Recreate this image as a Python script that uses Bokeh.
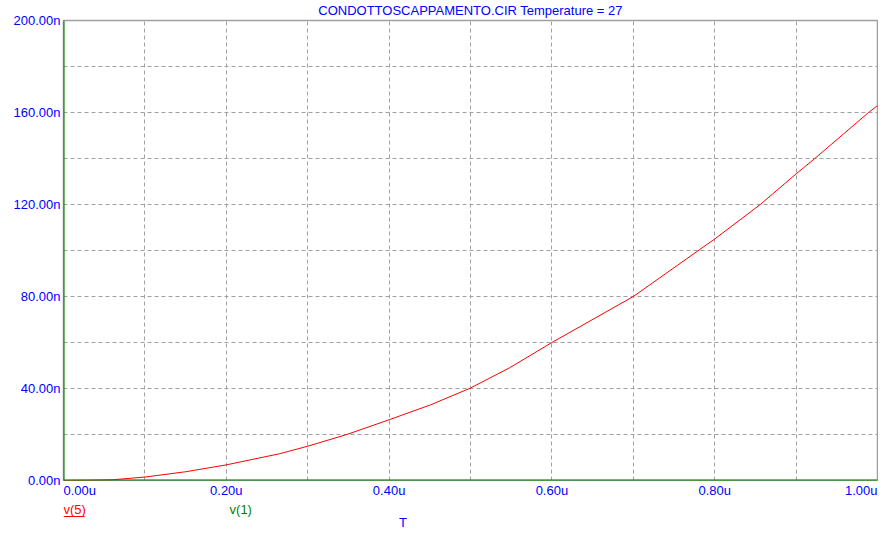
from bokeh.plotting import figure
from bokeh.layouts import column, row
from bokeh.models import Range1d, FixedTicker, Span
from bokeh.core.properties import value
from bokeh.embed import file_html
from bokeh.resources import INLINE

# ---- data (time in microseconds, voltage in nano-units) ----
t_us = [0.0, 0.03, 0.06, 0.10, 0.15, 0.20, 0.265, 0.30, 0.348, 0.40, 0.451,
        0.50, 0.548, 0.60, 0.70, 0.754, 0.80, 0.856, 0.90, 0.923, 0.989, 1.0]
v_n = [0.0, 0.1, 0.3, 1.5, 3.8, 6.8, 11.6, 14.9, 20.0, 26.4, 32.9,
       40.2, 49.0, 60.0, 80.0, 93.5, 105.0, 120.0, 133.3, 140.0, 160.0, 163.0]

y_ticks = [0, 40, 80, 120, 160, 200]
y_tick_labels = ["0.00n", "40.00n", "80.00n", "120.00n", "160.00n", "200.00n"]
x_ticks = [0.0, 0.2, 0.4, 0.6, 0.8, 1.0]
x_tick_labels = ["0.00u", "0.20u", "0.40u", "0.60u", "0.80u", "1.00u"]
x_grid = [0.0, 0.1, 0.2, 0.3, 0.4, 0.5, 0.6, 0.7, 0.8, 0.9, 1.0]
y_grid = [0, 20, 40, 60, 80, 100, 120, 140, 160, 180, 200]

title_text = "CONDOTTOSCAPPAMENTO.CIR Temperature = 27"
legend_names = ["v(5)", "v(1)"]
legend_colors = ["#ff0000", "#008000"]
legend_x = [0.0, 0.204]
x_label = "T"
x_label_pos = 0.417

FONT = "Liberation Sans"
BLUE = "#0000ff"
GRID = "#a0a0a0"
GREEN = "#008000"

LABEL_W = 62          # width of the strip holding the y tick labels
W = 878 - LABEL_W     # width of the plot column
H_TITLE, H_MAIN, H_BOTTOM = 19, 462, 48
H_ALL = H_TITLE + H_MAIN + H_BOTTOM
x_rng = Range1d(0, 1)
y_lo, y_hi = 0, 200
frame_h = H_MAIN - 2
per_px = (y_hi - y_lo) / frame_h


def bare(width, height, x_range, y_range):
    f = figure(width=width, height=height, output_backend="svg", toolbar_location=None,
               x_range=x_range, y_range=y_range, x_axis_location=None, y_axis_location=None,
               min_border_left=1, min_border_right=1, min_border_top=0, min_border_bottom=0)
    f.outline_line_color = None
    f.grid.visible = False
    f.background_fill_color = "white"
    f.border_fill_color = "white"
    return f


# ---- y tick label strip (same vertical scale as the main plot) ----
pl = figure(width=LABEL_W, height=H_ALL, output_backend="svg", toolbar_location=None,
            x_range=Range1d(0, 1),
            y_range=Range1d(y_lo - (H_BOTTOM + 1) * per_px, y_hi + (H_TITLE + 1) * per_px),
            x_axis_location=None, y_axis_location="left",
            min_border_left=LABEL_W - 1, min_border_right=0, min_border_top=0, min_border_bottom=0)
pl.outline_line_color = None
pl.grid.visible = False
pl.background_fill_color = "white"
pl.border_fill_color = "white"
lax = pl.yaxis[0]
lax.ticker = FixedTicker(ticks=y_ticks)
lax.major_label_overrides = {t: l for t, l in zip(y_ticks, y_tick_labels)}
lax.axis_line_color = None
lax.major_tick_line_color = None
lax.minor_tick_line_color = None
lax.major_tick_out = 0
lax.major_tick_in = 0
lax.minor_tick_out = 0
lax.minor_tick_in = 0
lax.major_label_standoff = 1
lax.major_label_text_color = BLUE
lax.major_label_text_font = FONT
lax.major_label_text_font_size = "13px"

# ---- title strip ----
pt = bare(W, H_TITLE, x_rng, Range1d(H_TITLE, 0))
pt.text(x=[0.5], y=[10], text=[title_text], text_align="center", text_baseline="middle",
        text_color=BLUE, text_font=value(FONT), text_font_size="13px")

# ---- main plot ----
p = figure(width=W, height=H_MAIN, output_backend="svg", toolbar_location=None,
           x_range=x_rng, y_range=Range1d(y_lo, y_hi),
           x_axis_location=None, y_axis_location=None,
           min_border_left=1, min_border_right=1, min_border_top=1, min_border_bottom=1)
p.background_fill_color = "white"
p.border_fill_color = "white"
p.outline_line_color = GRID
p.outline_line_width = 1.5

p.xgrid.ticker = FixedTicker(ticks=x_grid)
p.ygrid.ticker = FixedTicker(ticks=y_grid)
for g in (p.xgrid, p.ygrid):
    g.grid_line_color = GRID
    g.grid_line_dash = "4 3"
    g.grid_line_width = 1

p.add_layout(Span(location=y_lo, dimension="width", line_color=GREEN, line_width=2))
p.add_layout(Span(location=x_rng.start, dimension="height", line_color=GREEN, line_width=2))

p.line(t_us, v_n, line_color="#ff0000", line_width=1)

# ---- bottom strip: tick labels, trace names, axis name ----
pb = bare(W, H_BOTTOM, x_rng, Range1d(H_BOTTOM, 0))
aligns = ["left"] + ["center"] * (len(x_ticks) - 2) + ["right"]
pb.text(x=x_ticks, y=[9] * len(x_ticks), text=x_tick_labels, text_align=aligns,
        text_baseline="middle", text_color=BLUE, text_font=value(FONT), text_font_size="13px")
pb.text(x=legend_x, y=[28] * len(legend_x), text=legend_names, text_align="left",
        text_baseline="middle", text_color=legend_colors, text_font=value(FONT),
        text_font_size="13px")
pb.segment(x0=[legend_x[0]], x1=[legend_x[0] + 0.026], y0=[35], y1=[35],
           line_color=legend_colors[0], line_width=1)
pb.text(x=[x_label_pos], y=[41], text=[x_label], text_align="center", text_baseline="middle",
        text_color=BLUE, text_font=value(FONT), text_font_size="13px")

layout = row(pl, column(pt, p, pb, spacing=0), spacing=0)
open("out.html", "w").write(file_html(layout, INLINE))
